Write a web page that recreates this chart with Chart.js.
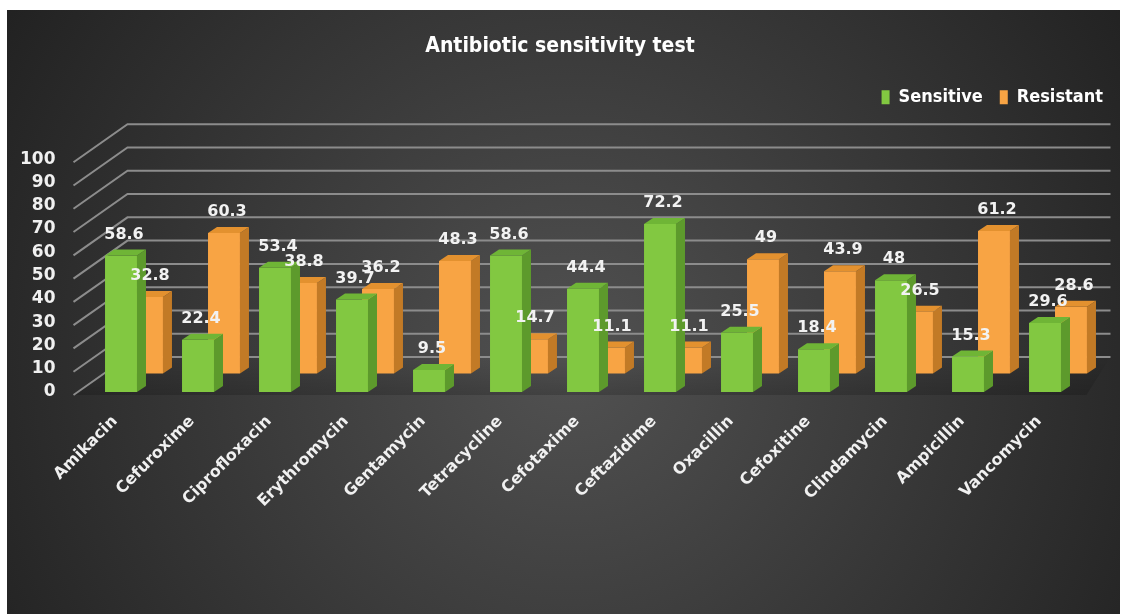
<!DOCTYPE html>
<html>
<head>
<meta charset="utf-8">
<title>Antibiotic sensitivity test</title>
<script src="https://cdn.jsdelivr.net/npm/chart.js@4.4.1/dist/chart.umd.min.js"></script>
<style>
  html, body { margin: 0; padding: 0; background: #fff; }
  #wrap { width: 1130px; height: 614px; }
</style>
</head>
<body>
<div id="wrap"><canvas id="grafico"></canvas></div>
<script>
// data
const antibiotics = ['Amikacin', 'Cefuroxime', 'Ciprofloxacin', 'Erythromycin', 'Gentamycin', 'Tetracycline',
    'Cefotaxime', 'Ceftazidime', 'Oxacillin', 'Cefoxitine', 'Clindamycin', 'Ampicillin', 'Vancomycin'];
const sensitive = [58.6, 22.4, 53.4, 39.7, 9.5, 58.6, 44.4, 72.2, 25.5, 18.4, 48, 15.3, 29.6];
const resistant = [32.8, 60.3, 38.8, 36.2, 48.3, 14.7, 11.1, 11.1, 49, 43.9, 26.5, 61.2, 28.6];
const yTicks = [0, 10, 20, 30, 40, 50, 60, 70, 80, 90, 100];

// colours for the fake 3d faces
const faces = {
    Sensitive: { front: '#82c841', side: '#5d9a2c', top: '#6fb536' },
    Resistant: { front: '#f8a444', side: '#c27a26', top: '#e3912f' }
};
const depth = { dx: 9, dy: -6 };

// background: white frame + dark radial panel
const fundo = {
    id: 'fundo',
    beforeDraw(chart) {
        const c = chart.ctx;
        c.save();
        c.fillStyle = '#ffffff';
        c.fillRect(0, 0, chart.width, chart.height);
        const g = c.createRadialGradient(570, 360, 20, 570, 360, 700);
        g.addColorStop(0, '#505050');
        g.addColorStop(1, '#1f1f1f');
        c.fillStyle = g;
        c.fillRect(7, 10, 1113, chart.height - 10);
        c.restore();
    }
};

// back wall grid + diagonal side lines, taken from the y scale ticks
const parede = {
    id: 'parede',
    beforeDatasetsDraw(chart) {
        const c = chart.ctx;
        const y = chart.scales.y;
        const left = chart.chartArea.left;
        const right = chart.chartArea.right;
        c.save();
        // soft floor shadow
        const y0 = y.getPixelForValue(0);
        const sh = c.createLinearGradient(0, y0 - 36, 0, y0 + 4);
        sh.addColorStop(0, 'rgba(0,0,0,0)');
        sh.addColorStop(1, 'rgba(0,0,0,0.18)');
        c.fillStyle = sh;
        c.beginPath();
        c.moveTo(left - 22, y0 + 3);
        c.lineTo(left + 32, y0 - 35);
        c.lineTo(right + 14, y0 - 35);
        c.lineTo(right - 10, y0 + 3);
        c.closePath();
        c.fill();
        c.strokeStyle = '#8c8c8c';
        c.lineWidth = 2;
        y.ticks.forEach(t => {
            const py = y.getPixelForValue(t.value);
            c.beginPath();
            c.moveTo(left - 22, py + 3);
            c.lineTo(left + 32, py - 35);
            c.lineTo(right + 14, py - 35);
            c.stroke();
        });
        c.restore();
    }
};

// side and top faces of each bar, drawn right after its dataset
const cubos = {
    id: 'cubos',
    afterDatasetDraw(chart, args) {
        const ds = chart.data.datasets[args.index];
        const f = faces[ds.label];
        const c = chart.ctx;
        c.save();
        args.meta.data.forEach(bar => {
            const p = bar.getProps(['x', 'y', 'base', 'width'], true);
            const l = p.x - p.width / 2, r = p.x + p.width / 2;
            c.fillStyle = f.side;
            c.beginPath();
            c.moveTo(r, p.y);
            c.lineTo(r + depth.dx, p.y + depth.dy);
            c.lineTo(r + depth.dx, p.base + depth.dy);
            c.lineTo(r, p.base);
            c.closePath();
            c.fill();
            c.fillStyle = f.top;
            c.beginPath();
            c.moveTo(l, p.y);
            c.lineTo(l + depth.dx, p.y + depth.dy);
            c.lineTo(r + depth.dx, p.y + depth.dy);
            c.lineTo(r, p.y);
            c.closePath();
            c.fill();
        });
        c.restore();
    }
};

// value labels above the bars
const rotulos = {
    id: 'rotulos',
    afterDatasetsDraw(chart) {
        const c = chart.ctx;
        c.save();
        c.font = 'bold 16px "DejaVu Sans", sans-serif';
        c.fillStyle = '#f2f2f2';
        c.textAlign = 'center';
        c.textBaseline = 'middle';
        chart.data.datasets.forEach((ds, i) => {
            chart.getDatasetMeta(i).data.forEach((bar, j) => {
                c.fillText(String(ds.data[j]), bar.x + 3, bar.y - 21);
            });
        });
        c.restore();
    }
};

const ctx = document.getElementById('grafico').getContext('2d');
const grafico = new Chart(ctx, {
    type: 'bar',
    data: {
        labels: antibiotics,
        datasets: [
            {
                label: 'Sensitive',
                data: sensitive,
                backgroundColor: faces.Sensitive.front,
                yAxisID: 'y',
                categoryPercentage: 0.675,
                barPercentage: 1.23
            },
            {
                label: 'Resistant',
                data: resistant,
                backgroundColor: faces.Resistant.front,
                yAxisID: 'y2',
                categoryPercentage: 0.675,
                barPercentage: 1.23
            }
        ]
    },
    options: {
        responsive: true,
        maintainAspectRatio: false,
        animation: false,
        layout: { padding: { right: 10 } },
        plugins: {
            title: {
                display: true,
                text: 'Antibiotic sensitivity test',
                color: '#ffffff',
                font: { family: '"DejaVu Sans Condensed", sans-serif', size: 21, weight: 'bold' },
                padding: { top: 34, bottom: 12 }
            },
            legend: {
                position: 'top',
                align: 'end',
                labels: {
                    color: '#ffffff',
                    boxWidth: 8,
                    boxHeight: 14,
                    padding: 17,
                    font: { family: '"DejaVu Sans Condensed", sans-serif', size: 18, weight: 'bold' }
                }
            },
            tooltip: { enabled: false }
        },
        scales: {
            x: {
                grid: { display: false, drawTicks: false },
                border: { display: false },
                ticks: {
                    color: '#f0f0f0',
                    maxRotation: 45,
                    minRotation: 45,
                    autoSkip: false,
                    padding: 20,
                    labelOffset: -19,
                    font: { family: '"DejaVu Sans", sans-serif', size: 16, weight: 'bold' }
                },
                afterFit: s => { s.height = 222; }
            },
            // empty top band: room between the legend and the back wall
            xTop: {
                type: 'category',
                position: 'top',
                grid: { display: false, drawTicks: false },
                border: { display: false },
                ticks: { display: false },
                afterFit: s => { s.height = 43; }
            },
            y: {
                min: 0,
                max: 100,
                afterBuildTicks: s => { s.ticks = yTicks.map(v => ({ value: v })); },
                grid: { display: false, drawTicks: false },
                border: { display: false },
                ticks: {
                    color: '#f0f0f0',
                    autoSkip: false,
                    padding: 40,
                    font: { family: '"DejaVu Sans", sans-serif', size: 17, weight: 'bold' }
                },
                afterFit: s => { s.width = 95.5; }
            },
            y2: {
                // the back row sits a bit higher, like the depth of the 3d chart
                position: 'right',
                min: -8,
                max: 92,
                grid: { display: false, drawTicks: false },
                border: { display: false },
                ticks: { display: false },
                afterFit: s => { s.width = 23.5; }
            }
        }
    },
    plugins: [fundo, parede, cubos, rotulos]
});
</script>
</body>
</html>
